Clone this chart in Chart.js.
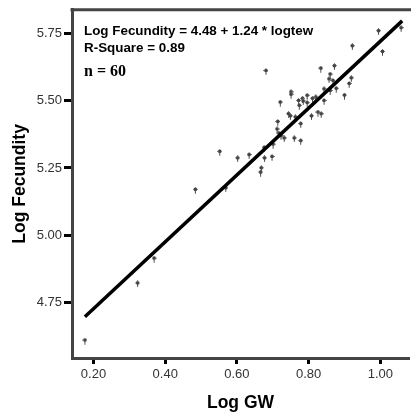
<!DOCTYPE html>
<html>
<head>
<meta charset="utf-8">
<script src="https://cdn.jsdelivr.net/npm/chart.js@4/dist/chart.umd.min.js"></script>
<style>
  html, body { margin: 0; padding: 0; background: #fff; }
  #wrap { width: 414px; height: 416px; }
</style>
</head>
<body>
<div id="wrap"><canvas id="fecundity"></canvas></div>
<script>
// log GW vs log fecundity
var logGW = [0.995, 1.058, 0.922, 1.006, 0.681, 0.834, 0.872, 0.860, 0.857, 0.868,
             0.919, 0.913, 0.843, 0.877, 0.860, 0.900, 0.751, 0.751, 0.721, 0.772,
             0.783, 0.796, 0.785, 0.774, 0.811, 0.820, 0.843, 0.796, 0.744, 0.749,
             0.763, 0.826, 0.835, 0.808, 0.714, 0.778, 0.712, 0.717, 0.723, 0.732,
             0.760, 0.778, 0.701, 0.676, 0.552, 0.634, 0.602, 0.677, 0.698, 0.668,
             0.666, 0.484, 0.569, 0.369, 0.323, 0.176];
var logFec = [5.756, 5.767, 5.700, 5.679, 5.608, 5.617, 5.626, 5.595, 5.577, 5.571,
              5.581, 5.560, 5.540, 5.542, 5.534, 5.517, 5.529, 5.520, 5.491, 5.497,
              5.505, 5.516, 5.495, 5.479, 5.505, 5.510, 5.497, 5.489, 5.448, 5.440,
              5.436, 5.454, 5.448, 5.440, 5.419, 5.411, 5.391, 5.376, 5.366, 5.358,
              5.358, 5.348, 5.335, 5.323, 5.308, 5.296, 5.284, 5.284, 5.289, 5.247,
              5.231, 5.167, 5.173, 4.912, 4.820, 4.608];
// fitted line end points
var fitX = [0.176, 1.061];
var fitY = [4.698, 5.796];
var xTicks = [0.20, 0.40, 0.60, 0.80, 1.00];
var yTicks = [4.75, 5.00, 5.25, 5.50, 5.75];
var notes = ["Log Fecundity = 4.48 + 1.24 * logtew", "R-Square = 0.89", "n = 60"];

// small marker glyph like the SPSS one
var mark = document.createElement('canvas');
mark.width = 5; mark.height = 7;
var mc = mark.getContext('2d');
mc.fillStyle = '#777';
mc.fillRect(0, 2, 5, 1);
mc.fillRect(2, 0, 1, 7);
mc.fillStyle = '#444';
mc.fillRect(1, 1, 3, 3);
mc.fillRect(2, 4, 1, 2);

var pts = logGW.map(function (v, i) { return { x: v, y: logFec[i] }; });
var fit = fitX.map(function (v, i) { return { x: v, y: fitY[i] }; });

var extras = {
    id: 'extras',
    afterDraw: function (chart) {
        var ctx = chart.ctx, a = chart.chartArea;
        ctx.save();
        ctx.strokeStyle = '#444';
        ctx.lineWidth = 3;
        ctx.beginPath();
        ctx.moveTo(a.left - 1.5, a.top);
        ctx.lineTo(a.right + 2, a.top);
        ctx.stroke();
        ctx.fillStyle = '#000';
        ctx.textBaseline = 'middle';
        ctx.font = 'bold 13.4px "Liberation Sans", Arial, sans-serif';
        ctx.fillText(notes[0], a.left + 12, 31);
        ctx.fillText(notes[1], a.left + 12, 48);
        ctx.font = 'bold 16px "Liberation Serif", "Times New Roman", serif';
        ctx.fillText(notes[2], a.left + 12, 72);
        ctx.restore();
    }
};

var tickFont = { family: '"Liberation Sans", Arial, sans-serif', size: 13 };
var titleFont = { family: '"Liberation Sans", Arial, sans-serif', size: 17.5, weight: 'bold' };

new Chart(document.getElementById('fecundity').getContext('2d'), {
    type: 'scatter',
    data: {
        datasets: [{
            type: 'line',
            data: fit,
            borderColor: '#000',
            borderWidth: 3.5,
            pointRadius: 0,
            fill: false,
            order: 0
        }, {
            data: pts,
            pointStyle: mark,
            pointRadius: 3,
            order: 1
        }]
    },
    options: {
        responsive: true,
        maintainAspectRatio: false,
        animation: false,
        layout: { padding: { left: 0, right: 0, top: 7, bottom: 0 } },
        plugins: { legend: { display: false }, tooltip: { enabled: false } },
        scales: {
            x: {
                type: 'linear',
                min: 0.14, max: 1.08,
                afterFit: function (s) { s.height = 58; },
                afterBuildTicks: function (s) { s.ticks = xTicks.map(function (v) { return { value: v }; }); },
                ticks: { color: '#333', font: tickFont, padding: 3, maxRotation: 0,
                    callback: function (v) { return v.toFixed(2); } },
                grid: { drawOnChartArea: false, drawTicks: true, tickLength: 6, tickWidth: 3, tickColor: '#000' },
                border: { display: true, color: '#444', width: 3 },
                title: { display: true, text: 'Log GW', color: '#000', font: titleFont, padding: { top: 2, bottom: 2 } }
            },
            y: {
                type: 'linear',
                min: 4.545, max: 5.837,
                afterFit: function (s) { s.width = 72; },
                afterBuildTicks: function (s) { s.ticks = yTicks.map(function (v) { return { value: v }; }); },
                ticks: { color: '#333', font: tickFont, padding: 2,
                    callback: function (v) { return v.toFixed(2); } },
                grid: { drawOnChartArea: false, drawTicks: true, tickLength: 8, tickWidth: 3, tickColor: '#000' },
                border: { display: true, color: '#444', width: 3 },
                title: { display: true, text: 'Log Fecundity', color: '#000', font: titleFont, padding: { top: 10, bottom: 10 } }
            }
        }
    },
    plugins: [extras]
});
</script>
</body>
</html>
